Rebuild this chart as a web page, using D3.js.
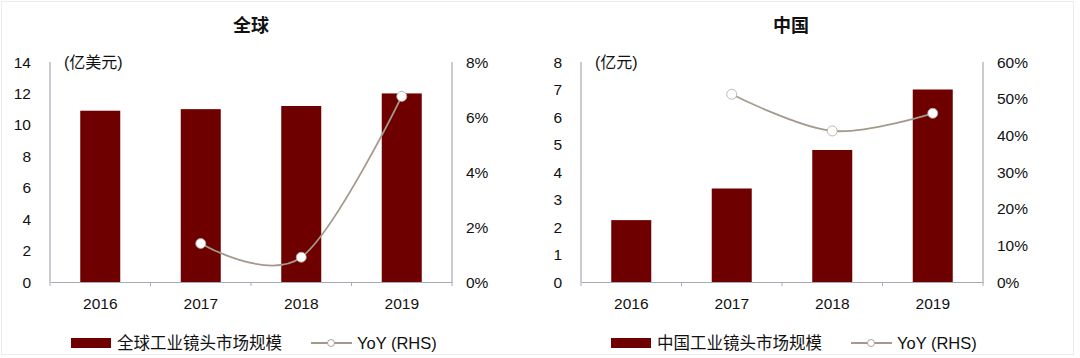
<!DOCTYPE html>
<html><head><meta charset="utf-8">
<script src="https://cdn.jsdelivr.net/npm/d3@7"></script>
<style>
html,body{margin:0;padding:0;background:#fff;}
svg{display:block;}
text{font-family:"Liberation Sans","Noto Sans CJK SC",Arial,sans-serif;fill:#111;}
</style></head>
<body>
<svg id="c" width="1080" height="358"></svg>
<script>
const years = ["2016","2017","2018","2019"];
const globalSize = [10.9, 11.0, 11.2, 12.0];
const globalYoY = [null, 1.4, 0.9, 6.75];
const chinaSize = [2.25, 3.4, 4.8, 7.0];
const chinaYoY = [null, 51.2, 41.2, 46.0];
const globalLeftTicks = [0,2,4,6,8,10,12,14];
const globalRightTicks = [0,2,4,6,8];
const chinaLeftTicks = [0,1,2,3,4,5,6,7,8];
const chinaRightTicks = [0,10,20,30,40,50,60];

const svg = d3.select("#c");
svg.append("rect").attr("x",1.5).attr("y",1.5).attr("width",1072).attr("height",353)
  .attr("fill","none").attr("stroke","#ececec");

const BAR = "#6e0000", LINE = "#a39a8c", AX = "#a8a8b4";

function panel(o){
  const g = svg.append("g");
  const x = d3.scaleBand().domain(years).range([o.x0,o.x1]);
  const yL = d3.scaleLinear().domain([0,o.lmax]).range([282,62]);
  const yR = d3.scaleLinear().domain([0,o.rmax]).range([282,62]);
  g.append("text").attr("x",o.tx).attr("y",32).attr("text-anchor","middle")
    .attr("font-size",18).attr("font-weight","bold").attr("font-family","Noto Sans CJK SC").text(o.title);
  g.append("text").attr("x",o.x0+14).attr("y",68).attr("font-size",16).attr("font-family","Noto Sans CJK SC").text(o.unit);
  const bw = 40;
  g.selectAll("rect.b").data(o.size).join("rect").attr("class","b")
    .attr("x",(d,i)=>x(years[i])+x.bandwidth()/2-bw/2)
    .attr("width",bw).attr("y",d=>yL(d)).attr("height",d=>yL(0)-yL(d)).attr("fill",BAR);
  g.append("line").attr("x1",o.x0).attr("x2",o.x0).attr("y1",62).attr("y2",282).attr("stroke",AX).attr("stroke-width",1.2);
  g.append("line").attr("x1",o.x1).attr("x2",o.x1).attr("y1",62).attr("y2",282).attr("stroke",AX).attr("stroke-width",1.2);
  const xa = g.append("g").attr("transform","translate(0,282)")
    .call(d3.axisBottom(x).tickSize(0).tickPadding(16));
  xa.select(".domain").attr("stroke",AX).attr("stroke-width",1.2);
  xa.selectAll("text").attr("font-size",15.5).attr("fill","#111").attr("font-family","Liberation Sans");
  const bounds = years.map(y=>x(y)).concat([o.x1]);
  g.selectAll("line.st").data(bounds).join("line").attr("class","st")
    .attr("x1",d=>d).attr("x2",d=>d).attr("y1",282).attr("y2",286).attr("stroke",AX);
  g.selectAll("text.lt").data(o.lt).join("text").attr("class","lt")
    .attr("x",o.x0-19).attr("y",d=>yL(d)+5.5).attr("text-anchor","end").attr("font-size",15.5).text(d=>d);
  g.selectAll("text.rt").data(o.rt).join("text").attr("class","rt")
    .attr("x",o.x1+14).attr("y",d=>yR(d)+5.5).attr("font-size",15.5).text(d=>d+"%");
  const pts = o.yoy.map((v,i)=>({v,i})).filter(d=>d.v!==null);
  const line = d3.line().x(d=>x(years[d.i])+x.bandwidth()/2).y(d=>yR(d.v)).curve(d3.curveCatmullRom.alpha(0));
  g.append("path").datum(pts).attr("d",line).attr("fill","none").attr("stroke",LINE).attr("stroke-width",1.8);
  g.selectAll("circle.p").data(pts).join("circle").attr("class","p")
    .attr("cx",d=>x(years[d.i])+x.bandwidth()/2).attr("cy",d=>yR(d.v)).attr("r",5)
    .attr("fill","#fff").attr("stroke","#b0a898").attr("stroke-width",0.8);
  const ly = 343;
  g.append("rect").attr("x",o.lx).attr("y",ly-5).attr("width",40).attr("height",10).attr("fill",BAR);
  g.append("text").attr("x",o.lx+46).attr("y",ly+6).attr("font-size",16.5).attr("font-family","Noto Sans CJK SC").text(o.legend);
  g.append("line").attr("x1",o.lx+240).attr("x2",o.lx+281).attr("y1",ly).attr("y2",ly).attr("stroke",LINE).attr("stroke-width",1.8);
  g.append("circle").attr("cx",o.lx+260).attr("cy",ly).attr("r",3.5).attr("fill","#fff").attr("stroke","#a39a8c").attr("stroke-width",0.9);
  g.append("text").attr("x",o.lx+286).attr("y",ly+6).attr("font-size",16.5).text("YoY (RHS)");
}

panel({x0:50,x1:452,lmax:14,rmax:8,lt:globalLeftTicks,rt:globalRightTicks,size:globalSize,yoy:globalYoY,
  title:"全球",tx:251,unit:"(亿美元)",legend:"全球工业镜头市场规模",lx:71});
panel({x0:581,x1:983,lmax:8,rmax:60,lt:chinaLeftTicks,rt:chinaRightTicks,size:chinaSize,yoy:chinaYoY,
  title:"中国",tx:791,unit:"(亿元)",legend:"中国工业镜头市场规模",lx:611});
</script>
</body></html>
